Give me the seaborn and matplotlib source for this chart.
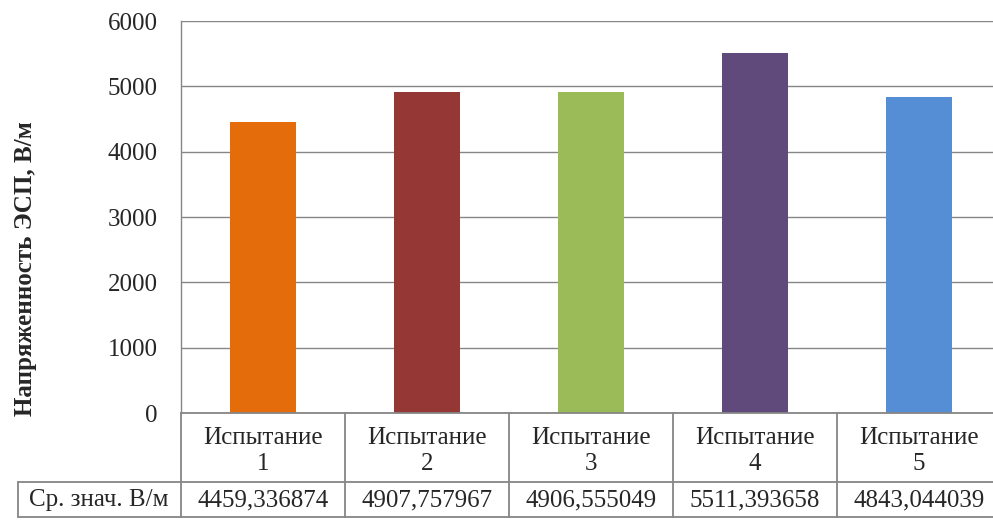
import matplotlib
matplotlib.use("Agg")
import matplotlib.pyplot as plt
import matplotlib.transforms as mtransforms
from matplotlib.lines import Line2D
import seaborn as sns
import pandas as pd

categories = ["Испытание\n1", "Испытание\n2", "Испытание\n3", "Испытание\n4", "Испытание\n5"]
values = [4459.336874, 4907.757967, 4906.555049, 5511.393658, 4843.044039]
value_labels = ["4459,336874", "4907,757967", "4906,555049", "5511,393658", "4843,044039"]
row_label = "Ср. знач. В/м"
y_label = "Напряженность ЭСП, В/м"
colors = ["#E46C0A", "#953735", "#9BBB59", "#604A7B", "#558ED5"]
y_ticks = [0, 1000, 2000, 3000, 4000, 5000, 6000]

sns.set_style("white")
plt.rcParams["font.family"] = ["Liberation Serif", "DejaVu Serif"]

W, H = 993, 520
FS = 18
fig = plt.figure(figsize=(W / 100, H / 100), dpi=100)


def fy(py):
    return 1 - py / H


def fx(px):
    return px / W


# plot area runs slightly past the right edge of the canvas
ax = fig.add_axes([fx(181), fy(413), fx(1001) - fx(181), fy(21) - fy(413)])

df = pd.DataFrame({"cat": categories, "val": values})
sns.barplot(data=df, x="cat", y="val", hue="cat", palette=colors,
            width=0.40, legend=False, ax=ax, saturation=1, linewidth=0)

ax.set_ylim(0, 6000)
ax.set_xlim(-0.5, 4.5)
ax.set_yticks(y_ticks)
ax.set_yticklabels([str(t) for t in y_ticks], fontsize=FS)
ax.tick_params(axis="y", length=0, pad=17)
ax.set_xticks([])
ax.set_xlabel("")
ax.set_ylabel("")
ax.yaxis.grid(True, color="#868686", linewidth=1)
ax.set_axisbelow(True)
for side in ["top", "right", "bottom"]:
    ax.spines[side].set_visible(False)
ax.spines["left"].set_color("#868686")
ax.spines["left"].set_linewidth(1)

fig.text(fx(26), fy(269), y_label, rotation=90, ha="center", va="center",
         fontsize=FS, fontweight="bold")

# data table under the plot
line_kw = dict(color="#868686", linewidth=1.3)
tr = mtransforms.blended_transform_factory(ax.transData, fig.transFigure)
for i in range(len(categories)):
    xb = i - 0.5
    fig.add_artist(Line2D([xb, xb], [fy(413), fy(517)], transform=tr, **line_kw))
fig.add_artist(Line2D([fx(18), fx(993)], [fy(482), fy(482)], transform=fig.transFigure, **line_kw))
fig.add_artist(Line2D([fx(18), fx(993)], [fy(517), fy(517)], transform=fig.transFigure, **line_kw))
fig.add_artist(Line2D([fx(18), fx(18)], [fy(482), fy(517)], transform=fig.transFigure, **line_kw))
fig.add_artist(Line2D([fx(181), fx(993)], [fy(413), fy(413)], transform=fig.transFigure, **line_kw))

for i, (cat, lab) in enumerate(zip(categories, value_labels)):
    top, bottom = cat.split("\n")
    ax.text(i, fy(438), top, transform=tr, ha="center", va="center", fontsize=FS)
    ax.text(i, fy(464), bottom, transform=tr, ha="center", va="center", fontsize=FS)
    ax.text(i, fy(500), lab, transform=tr, ha="center", va="center", fontsize=FS)

fig.text(fx(99), fy(500), row_label, ha="center", va="center", fontsize=FS)

fig.savefig("out.png", dpi=100)
